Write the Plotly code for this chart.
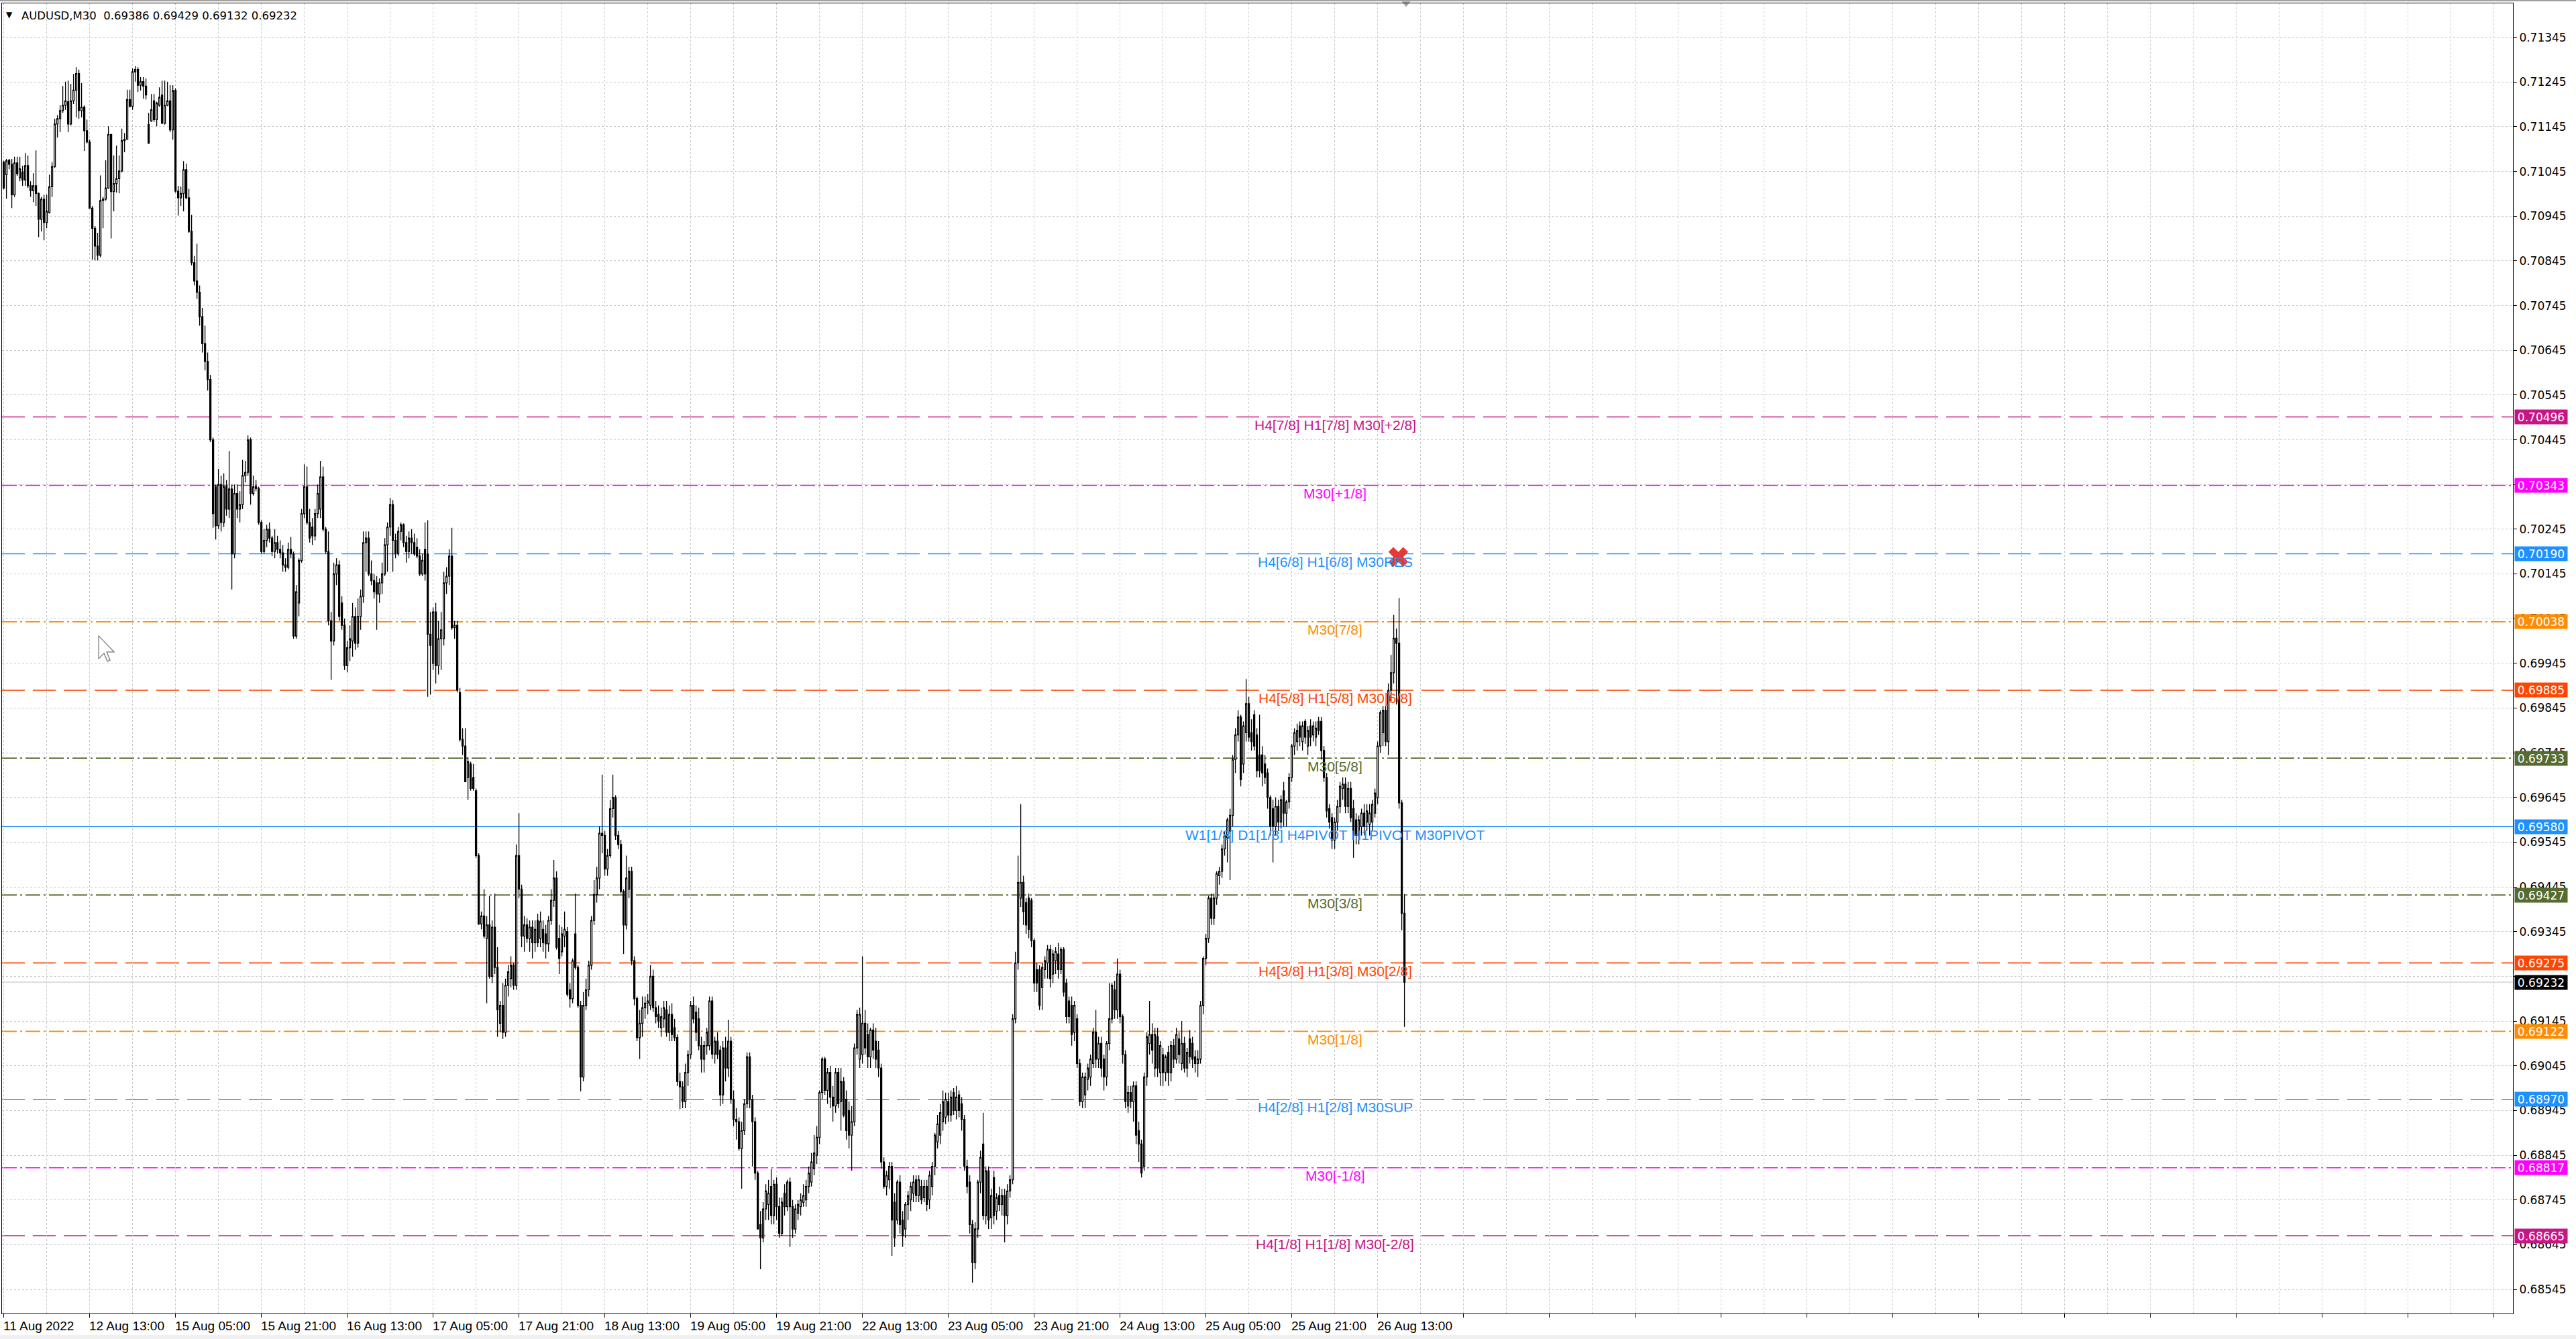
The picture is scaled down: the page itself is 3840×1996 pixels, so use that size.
import plotly.graph_objects as go

# ---------------- DATA (prices in 1e-5 units, one entry per M30 bar) ----------------
opens = [
71066,71038,71070,71061,70993,71064,71031,71044,71026,71058,71013,71002,71013,70996,70938,70983,70931,70953,71011,71056,
71151,71163,71181,71193,71201,71151,71203,71227,71264,71181,71189,71136,71111,70963,70918,70878,70858,70980,70983,71008,
71128,71000,71018,71029,71046,71114,71117,71206,71191,71268,71273,71238,71246,71236,71150,71158,71203,71161,71193,71216,
71153,71193,71203,71138,71226,71001,70986,70996,71049,70986,70911,70841,70800,70775,70720,70660,70620,70580,70445,70340,
70253,70345,70260,70340,70290,70335,70190,70325,70290,70300,70365,70372,70445,70325,70340,70336,70260,70195,70220,70245,
70225,70195,70215,70200,70192,70165,70160,70200,70190,70006,70080,70175,70280,70340,70260,70250,70230,70280,70290,70362,
70245,70195,70040,69995,70145,70165,70080,70030,69940,69980,69995,70050,69990,70050,70095,70215,70225,70145,70130,70125,
70100,70125,70145,70210,70250,70300,70220,70190,70240,70255,70215,70195,70225,70215,70205,70185,70145,70200,70190,70010,
69945,70060,69940,70000,70000,70125,70140,70185,70025,70030,69880,69775,69760,69690,69720,69690,69660,69515,69362,69380,
69330,69360,69245,69355,69265,69140,69180,69120,69225,69240,69270,69225,69515,69440,69335,69360,69330,69355,69320,69370,
69330,69350,69340,69318,69370,69415,69465,69330,69300,69335,69345,69215,69195,69340,69265,69180,69020,69180,69215,69270,
69370,69428,69465,69565,69560,69485,69515,69620,69645,69560,69540,69435,69360,69440,69480,69280,69195,69108,69140,69175,
69185,69180,69245,69175,69160,69130,69150,69170,69120,69160,69130,69108,69010,68998,68965,69030,69070,69180,69165,69150,
69090,69060,69090,69090,69190,69071,69100,69080,68980,69085,69040,69100,68970,68925,68920,68860,68900,68960,69065,68970,
68920,68805,68690,68660,68725,68735,68775,68710,68780,68730,68670,68760,68730,68785,68730,68680,68715,68730,68740,68745,
68775,68785,68815,68845,68885,68985,69060,68990,69030,68975,68955,69030,68965,69010,68970,68945,68890,68920,69085,69060,
69070,69140,69115,69065,69125,69100,69080,69040,68830,68775,68790,68820,68740,68700,68785,68700,68680,68735,68745,68760,
68790,68755,68775,68750,68775,68745,68775,68820,68875,68890,68920,68930,68965,68935,68985,68945,68980,68960,68925,68820,
68785,68690,68605,68680,68785,68870,68710,68810,68705,68795,68720,68755,68735,68755,68710,68765,68790,69150,69275,69420,
69455,69410,69420,69415,69325,69260,69260,69220,69260,69275,69305,69250,69280,69295,69260,69305,69230,69190,69180,69120,
69150,69050,68965,68980,69015,69020,69050,69120,69060,69095,69060,69020,69095,69150,69215,69170,69250,69155,69070,68955,
68985,68965,69000,68900,68870,68820,69020,69095,69115,69040,69110,69030,69070,69030,69075,69030,69090,69060,69105,69050,
69095,69040,69105,69095,69065,69050,69060,69180,69285,69330,69420,69375,69420,69470,69480,69530,69555,69570,69605,69730,
69785,69825,69720,69790,69855,69790,69830,69785,69740,69740,69720,69700,69645,69620,69580,69625,69590,69660,69610,69635,
69690,69760,69770,69805,69770,69815,69760,69805,69785,69780,69815,69815,69750,69690,69620,69600,69550,69590,69625,69665,
69675,69625,69665,69620,69595,69560,69580,69610,69590,69585,69590,69610,69645,69760,69790,69840,69770,69885,69924,70001,
69990,69633,69386]

highs = [
71069,71073,71073,71073,71078,71078,71078,71058,71086,71081,71023,71041,71092,70998,70988,70993,70993,71038,71066,71163,
71171,71193,71236,71246,71248,71241,71263,71278,71273,71243,71193,71161,71116,70968,70923,70908,71036,70988,71070,71146,
71128,71081,71103,71081,71141,71131,71228,71228,71276,71281,71278,71256,71256,71253,71176,71218,71218,71201,71233,71248,
71248,71246,71238,71238,71231,71013,71011,71068,71063,71006,70948,70856,70883,70790,70740,70700,70640,70590,70450,70345,
70380,70365,70370,70355,70420,70345,70345,70345,70330,70400,70398,70455,70450,70365,70355,70340,70265,70245,70255,70260,
70230,70245,70230,70220,70210,70180,70215,70228,70195,70120,70180,70290,70390,70385,70290,70270,70290,70345,70398,70385,
70250,70240,70060,70170,70180,70175,70095,70045,69995,70030,70080,70070,70090,70110,70240,70240,70240,70175,70145,70140,
70135,70170,70225,70260,70315,70310,70235,70250,70260,70258,70230,70240,70245,70235,70225,70200,70190,70260,70265,70060,
70070,70080,70040,70060,70150,70160,70200,70248,70040,70040,69890,69800,69800,69735,69725,69720,69665,69520,69390,69440,
69380,69425,69370,69430,69310,69190,69230,69240,69270,69290,69275,69540,69610,69450,69380,69375,69370,69370,69370,69385,
69390,69370,69360,69380,69440,69505,69480,69360,69355,69390,69355,69230,69285,69430,69270,69190,69210,69240,69280,69380,
69460,69490,69580,69696,69570,69530,69640,69696,69650,69570,69550,69440,69515,69490,69490,69290,69200,69170,69200,69200,
69205,69270,69260,69190,69180,69175,69190,69190,69180,69185,69150,69115,69030,69010,69050,69080,69190,69200,69180,69175,
69110,69100,69130,69200,69200,69110,69120,69090,69100,69110,69148,69110,68990,68950,68930,68920,68970,69075,69075,68980,
68930,68810,68720,68740,68780,68790,68815,68790,68795,68750,68750,68780,68790,68795,68745,68735,68745,68760,68780,68790,
68820,68850,68890,68910,68990,69065,69065,69040,69045,69000,69040,69040,69040,69020,68990,68965,68955,69095,69170,69175,
69290,69170,69140,69130,69140,69130,69100,69050,68840,68810,68830,68830,68760,68790,68800,68720,68740,68765,68785,68800,
68800,68800,68790,68790,68790,68810,68830,68895,68935,68960,68990,68985,68985,68990,68995,69000,68990,68975,68935,68835,
68800,68700,68695,68790,68855,68940,68820,68820,68770,68810,68760,68775,68770,68770,68780,68800,69160,69300,69515,69630,
69470,69420,69430,69420,69330,69275,69270,69275,69290,69315,69315,69305,69310,69320,69310,69310,69240,69200,69200,69190,
69160,69060,69030,69030,69050,69070,69130,69170,69110,69110,69070,69100,69230,69230,69235,69285,69260,69160,69080,69000,
69000,69010,69010,68920,68880,69030,69120,69190,69140,69130,69130,69100,69085,69070,69090,69100,69105,69130,69120,69145,
69110,69085,69125,69110,69080,69080,69190,69290,69340,69425,69430,69430,69480,69490,69540,69570,69600,69620,69740,69800,
69840,69830,69815,69910,69870,69820,69840,69800,69830,69760,69740,69710,69650,69640,69645,69640,69650,69680,69640,69700,
69765,69800,69810,69815,69815,69820,69805,69820,69815,69815,69825,69825,69760,69700,69630,69610,69600,69640,69680,69690,
69690,69680,69680,69640,69610,69605,69620,69630,69630,69630,69640,69665,69770,69840,69850,69850,69900,69964,70053,70023,
70091,69640,69429]

lows = [
71005,70984,71050,70963,70988,71035,71023,71013,71013,71008,70988,70976,70968,70898,70911,70891,70918,70951,70988,71053,
71121,71133,71176,71183,71133,71148,71196,71166,71163,71166,71091,71108,70963,70848,70846,70846,70853,70918,70980,71006,
70895,70956,70998,70996,71043,71088,71116,71188,71183,71246,71223,71226,71208,71206,71108,71156,71156,71146,71190,71151,
71150,71191,71133,71116,70998,70946,70968,70956,70983,70908,70835,70790,70760,70700,70640,70600,70555,70440,70248,70222,
70245,70240,70250,70275,70270,70110,70180,70270,70260,70290,70350,70365,70300,70320,70330,70255,70190,70190,70205,70215,
70185,70180,70190,70180,70150,70150,70155,70180,70000,70000,70050,70170,70270,70255,70215,70210,70220,70270,70270,70240,
70190,70030,69908,69985,70120,70040,70020,69930,69925,69950,69960,69975,69980,70020,70080,70150,70140,70120,70090,70020,
70080,70100,70140,70150,70230,70150,70180,70185,70220,70205,70170,70180,70190,70185,70180,70140,70140,70130,69870,69875,
69930,69900,69920,69930,69985,70100,70120,70020,70000,69880,69770,69740,69680,69640,69660,69660,69510,69360,69350,69330,
69185,69240,69230,69250,69110,69120,69105,69110,69200,69220,69215,69215,69420,69310,69300,69320,69300,69285,69300,69310,
69310,69300,69285,69300,69360,69400,69305,69250,69290,69310,69200,69175,69185,69260,69175,68988,69010,69170,69200,69260,
69360,69410,69440,69520,69470,69470,69510,69600,69550,69530,69430,69295,69350,69420,69270,69180,69100,69060,69110,69150,
69160,69170,69165,69140,69130,69110,69130,69110,69100,69100,69100,69000,68948,68950,68950,69000,69060,69140,69100,69080,
69030,69030,69070,69080,69060,69050,69060,68955,68960,69010,69020,68960,68910,68880,68855,68770,68890,68950,68950,68820,
68790,68680,68590,68650,68700,68700,68690,68690,68700,68660,68665,68710,68720,68640,68660,68670,68700,68710,68730,68730,
68760,68775,68800,68825,68870,68970,68980,68960,68950,68920,68940,68950,68900,68930,68880,68860,68810,68910,69070,69040,
69050,69070,69040,69040,69060,69040,69020,68815,68770,68755,68770,68620,68640,68690,68670,68640,68660,68700,68720,68740,
68740,68740,68735,68740,68720,68725,68755,68800,68860,68870,68900,68915,68920,68920,68935,68925,68930,68900,68810,68760,
68670,68560,68590,68660,68760,68700,68690,68680,68680,68690,68700,68720,68710,68650,68690,68750,68780,69140,69260,69400,
69360,69340,69330,69310,69210,69210,69170,69170,69240,69240,69220,69230,69250,69240,69250,69200,69140,69140,69090,69100,
69040,68955,68950,68950,68990,69000,69040,69040,69040,69020,68990,69000,69080,69140,69150,69150,69140,69050,68950,68940,
68950,68920,68870,68830,68795,68810,69000,69070,69050,69020,69020,69000,69000,69010,69000,69010,69040,69050,69050,69035,
69030,69020,69050,69040,69030,69020,69050,69160,69270,69320,69360,69360,69405,69450,69465,69515,69500,69460,69580,69700,
69770,69670,69700,69770,69770,69750,69750,69690,69690,69670,69675,69620,69560,69500,69560,69570,69575,69580,69580,69620,
69680,69740,69750,69760,69750,69765,69740,69760,69770,69760,69785,69730,69680,69600,69575,69530,69530,69570,69610,69640,
69610,69610,69590,69510,69540,69540,69560,69560,69570,69560,69570,69600,69630,69745,69760,69760,69740,69860,69900,69853,
69620,69348,69132]

closes = [
71008,71069,71061,70993,71064,71040,71051,71026,71058,71013,71002,71013,70996,70938,70983,70931,70956,71011,71056,71151,
71163,71181,71193,71203,71151,71203,71227,71264,71181,71189,71136,71111,70963,70918,70878,70858,70980,70983,71008,71128,
71000,71018,71029,71046,71114,71117,71206,71191,71268,71273,71238,71246,71236,71216,71108,71183,71161,71198,71211,71153,
71193,71203,71138,71226,71001,70986,70996,71049,70986,70911,70841,70800,70775,70720,70660,70620,70580,70445,70280,70253,
70345,70260,70340,70290,70335,70190,70325,70290,70300,70365,70372,70445,70325,70340,70336,70260,70195,70220,70245,70225,
70195,70215,70200,70192,70165,70160,70200,70190,70006,70105,70175,70280,70340,70260,70225,70230,70280,70325,70362,70245,
70195,70040,69995,70145,70165,70050,70030,69940,69980,70000,70050,69990,70050,70095,70215,70225,70145,70130,70105,70100,
70125,70145,70210,70250,70300,70220,70190,70240,70255,70215,70195,70225,70215,70190,70185,70145,70175,70145,70010,69985,
70060,69940,70000,70020,70125,70140,70185,70025,70030,69885,69775,69760,69680,69725,69665,69665,69515,69362,69380,69335,
69360,69245,69355,69265,69170,69180,69120,69225,69255,69270,69225,69515,69440,69335,69360,69330,69355,69320,69350,69320,
69368,69320,69318,69370,69415,69465,69310,69285,69340,69350,69205,69195,69280,69265,69180,69020,69180,69215,69270,69370,
69428,69465,69565,69560,69485,69515,69620,69645,69560,69540,69435,69360,69465,69480,69280,69195,69108,69140,69175,69185,
69190,69245,69175,69155,69145,69155,69175,69120,69160,69115,69108,69010,68998,68965,69030,69070,69180,69150,69120,69090,
69060,69090,69120,69190,69071,69100,69070,68980,69085,69040,69100,68970,68925,68920,68860,68900,68960,69065,68970,68920,
68805,68680,68660,68725,68765,68760,68710,68780,68730,68670,68740,68730,68785,68730,68680,68725,68735,68745,68755,68775,
68805,68830,68850,68885,68985,69060,68990,69030,68975,68955,69030,68960,69010,68935,68900,68890,68920,69085,69160,69160,
69140,69085,69065,69125,69080,69060,69040,68830,68775,68800,68820,68700,68660,68785,68690,68665,68735,68755,68775,68785,
68755,68790,68745,68775,68735,68800,68820,68890,68915,68940,68965,68970,68935,68975,68945,68975,68945,68925,68820,68775,
68690,68605,68680,68785,68840,68710,68810,68700,68755,68710,68750,68735,68755,68710,68765,68790,69150,69275,69455,69455,
69390,69360,69350,69325,69230,69230,69180,69265,69280,69305,69240,69295,69300,69260,69305,69210,69155,69155,69115,69180,
69050,68965,69020,69020,69040,69060,69120,69060,69095,69040,69020,69095,69150,69225,69170,69250,69155,69070,68965,68985,
68965,69000,68890,68870,68805,69020,69110,69115,69080,69115,69040,69090,69030,69065,69030,69090,69060,69115,69070,69095,
69040,69075,69065,69060,69050,69060,69180,69285,69330,69420,69375,69420,69475,69480,69530,69560,69595,69605,69730,69785,
69825,69685,69805,69855,69780,69770,69760,69705,69705,69700,69690,69645,69580,69580,69625,69590,69640,69610,69635,69690,
69760,69790,69795,69780,69805,69780,69795,69780,69805,69800,69795,69750,69690,69615,69590,69550,69590,69625,69670,69675,
69625,69665,69600,69560,69560,69595,69610,69580,69615,69610,69630,69655,69760,69835,69840,69770,69885,69924,70001,69990,
69633,69386,69232]

SCALE = 100000.0

time_labels = ["11 Aug 2022", "12 Aug 13:00", "15 Aug 05:00", "15 Aug 21:00", "16 Aug 13:00",
               "17 Aug 05:00", "17 Aug 21:00", "18 Aug 13:00", "19 Aug 05:00", "19 Aug 21:00",
               "22 Aug 13:00", "23 Aug 05:00", "23 Aug 21:00", "24 Aug 13:00", "25 Aug 05:00",
               "25 Aug 21:00", "26 Aug 13:00"]
BARS_PER_LABEL = 32

price_ticks = [0.68545, 0.68645, 0.68745, 0.68845, 0.68945, 0.69045, 0.69145, 0.69245, 0.69345,
               0.69445, 0.69545, 0.69645, 0.69745, 0.69845, 0.69945, 0.70045, 0.70145, 0.70245,
               0.70345, 0.70445, 0.70545, 0.70645, 0.70745, 0.70845, 0.70945, 0.71045, 0.71145,
               0.71245, 0.71345]
# tick labels that are completely covered by a price tag in the reference
hidden_ticks = [0.69245, 0.70345]

level_prices = [0.70496, 0.70343, 0.70190, 0.70038, 0.69885, 0.69733, 0.69580,
                0.69427, 0.69275, 0.69122, 0.68970, 0.68817, 0.68665]
level_labels = ["H4[7/8] H1[7/8] M30[+2/8]", "M30[+1/8]", "H4[6/8] H1[6/8] M30RES", "M30[7/8]",
                "H4[5/8] H1[5/8] M30[6/8]", "M30[5/8]", "W1[1/8] D1[1/8] H4PIVOT H1PIVOT M30PIVOT",
                "M30[3/8]", "H4[3/8] H1[3/8] M30[2/8]", "M30[1/8]", "H4[2/8] H1[2/8] M30SUP",
                "M30[-1/8]", "H4[1/8] H1[1/8] M30[-2/8]"]
level_colors = ["#C71585", "#FF00FF", "#1E90FF", "#FF8C00", "#FF4500", "#556B2F", "#1E90FF",
                "#556B2F", "#FF4500", "#FF8C00", "#1E90FF", "#FF00FF", "#C71585"]
level_styles = ["dash", "dashdot", "dash", "dashdot", "dash", "dashdot", "solid",
                "dashdot", "dash", "dashdot", "dash", "dashdot", "dash"]

symbol_name = "AUDUSD,M30"
marker_x_bar = 519.7
marker_x_price = 0.70183

# ---------------- FIGURE ----------------
W, H = 3840, 1996
ML, MR, MT, MB = 3, 94, 5, 38
X_RANGE = [-0.65, 935.1]
Y_RANGE = [0.68491, 0.71421]

bars = list(range(len(closes)))
o = [v / SCALE for v in opens]
h = [v / SCALE for v in highs]
l = [v / SCALE for v in lows]
c = [v / SCALE for v in closes]

fig = go.Figure()

fig.add_trace(go.Candlestick(
    x=bars, open=o, high=h, low=l, close=c,
    increasing=dict(line=dict(color="black", width=1.3), fillcolor="white"),
    decreasing=dict(line=dict(color="black", width=1.3), fillcolor="black"),
    whiskerwidth=0, hoverinfo="skip", showlegend=False,
))

# red X marker (closed order)
fig.add_trace(go.Scatter(
    x=[marker_x_bar], y=[marker_x_price], mode="markers",
    marker=dict(symbol="x", size=26, color="#E53935", line=dict(width=0)),
    hoverinfo="skip", showlegend=False,
))
# chart-shift triangle at the top
fig.add_trace(go.Scatter(
    x=[bars[-1] + 0.6], y=[Y_RANGE[1]], mode="markers",
    marker=dict(symbol="triangle-down", size=11, color="#A8A8A8"),
    hoverinfo="skip", showlegend=False, cliponaxis=False,
))

DASHES = {"dash": "34px,12px", "dashdot": "22px,5px,3px,5px", "solid": "solid"}

shapes = []
annotations = []
for p, txt, col, sty in zip(level_prices, level_labels, level_colors, level_styles):
    shapes.append(dict(type="line", xref="paper", x0=0, x1=1, yref="y", y0=p, y1=p,
                       line=dict(color=col, width=1.6, dash=DASHES[sty]), layer="below"))
    annotations.append(dict(x=496.1, y=p, xref="x", yref="y", text=txt, showarrow=False,
                            xanchor="center", yanchor="middle", yshift=-12,
                            font=dict(family="Liberation Sans, Arial", size=21, color=col)))
    annotations.append(dict(x=1, y=p, xref="paper", yref="y", text="%.5f" % p, showarrow=False,
                            xanchor="left", yanchor="middle", xshift=2, bgcolor=col,
                            width=76, height=19, borderpad=1, align="center",
                            font=dict(family="DejaVu Sans, Verdana", size=17, color="white")))

# current price line + tag
last_close = c[-1]
shapes.append(dict(type="line", xref="paper", x0=0, x1=1, yref="y", y0=last_close, y1=last_close,
                   line=dict(color="#C0C0C0", width=1), layer="below"))
annotations.append(dict(x=1, y=last_close, xref="paper", yref="y", text="%.5f" % last_close,
                        showarrow=False, xanchor="left", yanchor="middle", xshift=2,
                        bgcolor="black", width=76, height=19, borderpad=1, align="center",
                        font=dict(family="DejaVu Sans, Verdana", size=17, color="white")))

# time labels (left aligned at their bar)
for k, lab in enumerate(time_labels):
    annotations.append(dict(x=k * BARS_PER_LABEL, y=0, xref="x", yref="paper", text=lab,
                            showarrow=False, xanchor="left", yanchor="middle", yshift=-18, xshift=-3,
                            font=dict(family="Liberation Sans, Arial", size=19, color="black")))

# title
annotations.append(dict(x=0, y=1, xref="paper", yref="paper", text="\u25BC", showarrow=False,
                        xanchor="left", yanchor="middle", xshift=4, yshift=-17,
                        font=dict(family="DejaVu Sans", size=12, color="black")))
title_txt = "%s\u00a0\u00a0%.5f %.5f %.5f %.5f" % (symbol_name, o[-1], h[-1], l[-1], c[-1])
annotations.append(dict(x=0, y=1, xref="paper", yref="paper", text=title_txt, showarrow=False,
                        xanchor="left", yanchor="middle", xshift=27, yshift=-18,
                        font=dict(family="DejaVu Sans, Verdana", size=16.5, color="black")))

# window chrome: gray strip at the very top and bottom
ph = H - MT - MB
shapes.append(dict(type="rect", xref="paper", yref="paper", x0=-0.01, x1=1.03,
                   y0=1 + 3.0 / ph, y1=1 + 5.0 / ph, fillcolor="#A0A0A0", line=dict(width=0), layer="above"))
shapes.append(dict(type="rect", xref="paper", yref="paper", x0=-0.01, x1=1.03,
                   y0=-(MB) / ph, y1=-(MB - 6.0) / ph, fillcolor="#F0F0F0", line=dict(width=0), layer="above"))

# mouse pointer left on the chart
shapes.append(dict(type="path", xref="paper", yref="paper", xsizemode="pixel", ysizemode="pixel",
                   xanchor=0.0385, yanchor=0.5172,
                   path="M 0 0 L 0 -34 L 8 -26 L 13 -38 L 17 -36 L 12 -24 L 23 -24 Z",
                   fillcolor="white", line=dict(color="#707070", width=1.2), layer="above"))

GRID = "#C8C8C8"
tick_text = ["" if any(abs(t - hdn) < 1e-9 for hdn in hidden_ticks) else "%.5f" % t for t in price_ticks]
fig.update_layout(
    width=W, height=H, margin=dict(l=ML, r=MR, t=MT, b=MB, autoexpand=False),
    paper_bgcolor="white", plot_bgcolor="white", showlegend=False,
    shapes=shapes, annotations=annotations, hovermode=False,
    xaxis=dict(range=X_RANGE, rangeslider=dict(visible=False), tickmode="linear", tick0=0,
               dtick=BARS_PER_LABEL, showticklabels=False, ticks="outside", ticklen=5,
               tickcolor="black", showgrid=True, gridcolor=GRID, griddash="3px,3px", gridwidth=1,
               minor=dict(dtick=BARS_PER_LABEL // 2, showgrid=True, gridcolor=GRID,
                          griddash="3px,3px", gridwidth=1, ticks=""),
               showline=True, linecolor="black", linewidth=1, mirror=True, zeroline=False,
               fixedrange=True),
    yaxis=dict(range=Y_RANGE, side="right", tickmode="array", tickvals=price_ticks,
               ticktext=tick_text, ticks="outside", ticklen=5,
               tickcolor="black", tickfont=dict(family="DejaVu Sans, Verdana", size=17, color="black"),
               showgrid=True, gridcolor=GRID, griddash="3px,3px", gridwidth=1,
               showline=True, linecolor="black", linewidth=1, mirror=True, zeroline=False,
               fixedrange=True),
)

fig.write_html("out.html", config=dict(displayModeBar=False, staticPlot=True),
               post_script="document.body.style.margin='0px';document.body.style.overflow='hidden';")
